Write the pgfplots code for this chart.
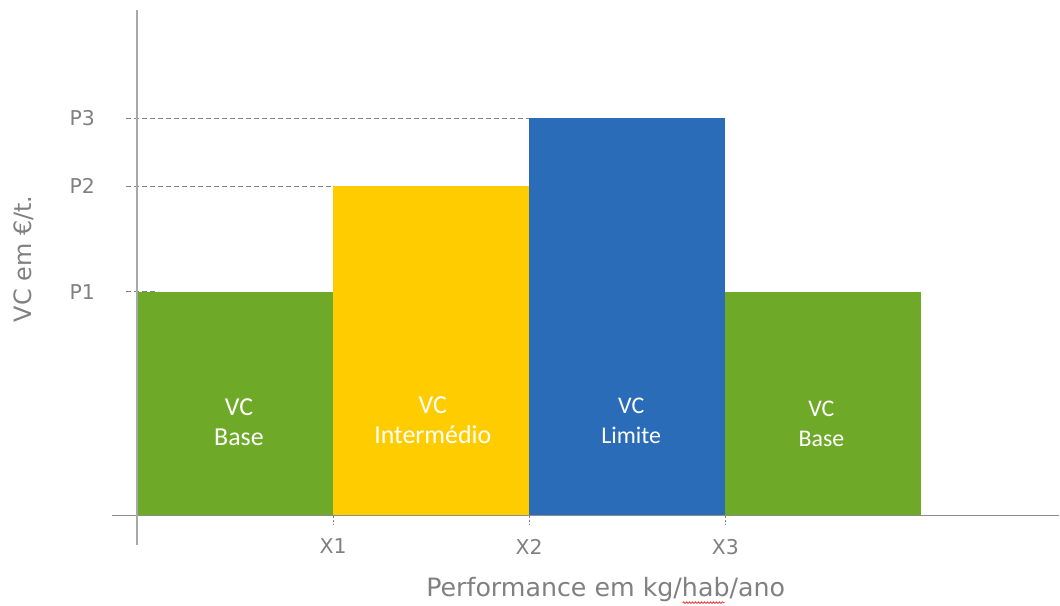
\documentclass[border=0pt]{standalone}
\usepackage{fontspec}
\setmainfont{DejaVu Sans}
\newfontfamily\barfont{Carlito}
\usepackage{pgfplots}
\pgfplotsset{compat=1.18}
\usetikzlibrary{decorations.pathmorphing}
\definecolor{cgreen}{HTML}{6EAA27}
\definecolor{cyellow}{HTML}{FFCC00}
\definecolor{cblue}{HTML}{2B6CB9}
\definecolor{txtgray}{HTML}{808080}
\definecolor{xaxgray}{HTML}{8C8C8C}
\definecolor{yaxgray}{HTML}{A8A8A8}
\begin{document}
\begin{tikzpicture}
\begin{axis}[
  x=196.25bp, y=100bp,
  xmin=-0.698, xmax=4.703, ymin=-0.89, ymax=5.16,
  axis line style={draw=none},
  major tick length=0pt,
  xtick={1,2,3}, xticklabels={X1,X2,X3},
  ytick={2.24,3.30,3.98}, yticklabels={P1,P2,P3},
  tick label style={font=\fontsize{20.5}{24}\selectfont, text=txtgray, inner sep=0pt},
  yticklabel style={anchor=east, xshift=95bp},
  xticklabel style={anchor=north, yshift=66bp},
  clip=false,
]
% dashed guide lines
\addplot[txtgray, dash pattern=on 5bp off 3bp, line width=0.9bp] coordinates {(-0.056,2.24) (0.1,2.24)};
\addplot[txtgray, dash pattern=on 5bp off 3bp, line width=0.9bp] coordinates {(-0.056,3.30) (1,3.30)};
\addplot[txtgray, dash pattern=on 5bp off 3bp, line width=0.9bp] coordinates {(-0.056,3.98) (2,3.98)};
% bars
\addplot[fill=cgreen, draw=none] coordinates {(0,2.24) (1,2.24)} \closedcycle;
\addplot[fill=cyellow, draw=none] coordinates {(1,3.30) (2,3.30)} \closedcycle;
\addplot[fill=cblue, draw=none] coordinates {(2,3.98) (3,3.98)} \closedcycle;
\addplot[fill=cgreen, draw=none] coordinates {(3,2.24) (4,2.24)} \closedcycle;
% x tick dashes
\addplot[txtgray, dash pattern=on 2bp off 2bp, line width=0.8bp] coordinates {(1,0) (1,-0.09)};
\addplot[txtgray, dash pattern=on 2bp off 2bp, line width=0.8bp] coordinates {(2,0) (2,-0.09)};
\addplot[txtgray, dash pattern=on 2bp off 2bp, line width=0.8bp] coordinates {(3,0) (3,-0.09)};
% axis lines
\draw[xaxgray, line width=1.4bp] (axis cs:-0.127,0) -- (axis cs:4.703,0);
\draw[yaxgray, line width=1.6bp] (axis cs:0,5.06) -- (axis cs:0,-0.29);
% bar labels
\node[text=white, align=center, font=\barfont\fontsize{26}{30}\selectfont] at (axis cs:0.52,0.94) {VC\\Base};
\node[text=white, align=center, font=\barfont\fontsize{26}{30}\selectfont] at (axis cs:1.508,0.96) {VC\\Intermédio};
\node[text=white, align=center, font=\barfont\fontsize{24}{30}\selectfont] at (axis cs:2.52,0.95) {VC\\Limite};
\node[text=white, align=center, font=\barfont\fontsize{24}{30}\selectfont] at (axis cs:3.49,0.92) {VC\\Base};
% axis titles
\node[text=txtgray, font=\fontsize{25.4}{30}\selectfont] at (axis cs:2.39,-0.74) {Performance em kg/hab/ano};
\node[text=txtgray, rotate=90, font=\fontsize{24}{30}\selectfont] at (axis cs:-0.576,2.57) {VC em €/t.};
\draw[red, line width=0.6bp, decorate, decoration={snake, amplitude=0.8bp, segment length=3bp}] (axis cs:2.782,-0.87) -- (axis cs:2.996,-0.87);
\end{axis}
\end{tikzpicture}
\end{document}
